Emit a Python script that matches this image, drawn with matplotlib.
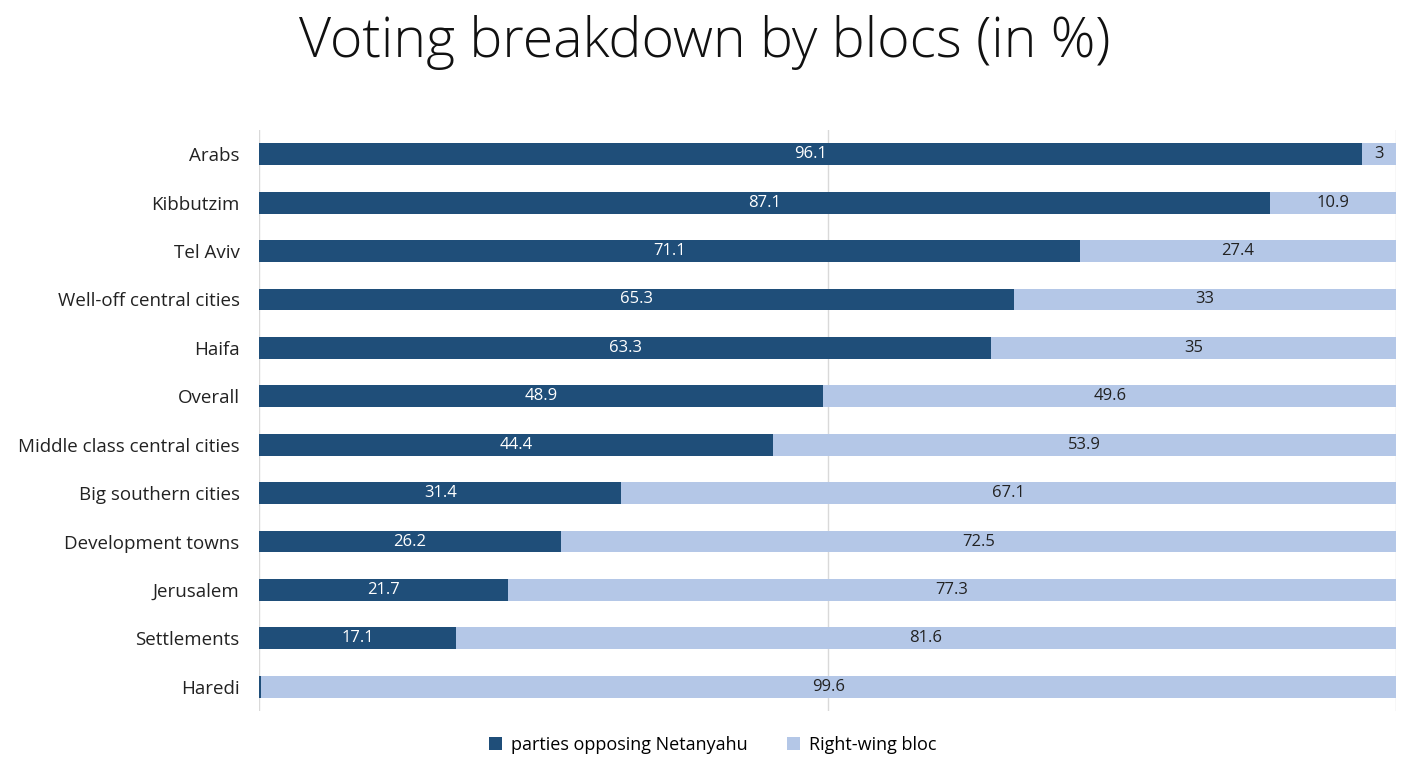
import matplotlib
matplotlib.use("Agg")
import matplotlib.pyplot as plt
import numpy as np

categories = ["Arabs", "Kibbutzim", "Tel Aviv", "Well-off central cities", "Haifa", "Overall",
              "Middle class central cities", "Big southern cities", "Development towns",
              "Jerusalem", "Settlements", "Haredi"]
opposing = [96.1, 87.1, 71.1, 65.3, 63.3, 48.9, 44.4, 31.4, 26.2, 21.7, 17.1, 0.2]
rightwing = [3, 10.9, 27.4, 33, 35, 49.6, 53.9, 67.1, 72.5, 77.3, 81.6, 99.6]
series_names = ["parties opposing Netanyahu", "Right-wing bloc"]
dark = "#1F4E79"
light = "#B4C7E7"

plt.rcParams['font.family'] = ['Open Sans', 'DejaVu Sans']

fig = plt.figure(figsize=(14.1, 7.65), dpi=100)
ax = fig.add_axes([259/1410, 1-711/765, (1396-259)/1410, 581/765])

opp = np.array(opposing)
rw = np.array(rightwing)
tot = opp + rw
op_p = opp / tot * 100
rw_p = rw / tot * 100
y = np.arange(len(categories))
h = 0.45
b1 = ax.barh(y, op_p, height=h, color=dark, label=series_names[0], zorder=3)
b2 = ax.barh(y, rw_p, left=op_p, height=h, color=light, label=series_names[1], zorder=3)

for i in range(len(categories)):
    if opposing[i] >= 1:
        ax.text(op_p[i]/2, y[i], f"{opposing[i]:g}", ha='center', va='center', color='white', fontsize=12, zorder=4)
    ax.text(op_p[i] + rw_p[i]/2, y[i], f"{rightwing[i]:g}", ha='center', va='center', color='#222222', fontsize=12, zorder=4)

ax.set_xlim(0, 100)
ax.set_ylim(len(categories)-0.5, -0.5)
ax.set_yticks(y)
ax.set_yticklabels(categories, fontsize=13.5, color='#222222')
ax.tick_params(axis='y', length=0, pad=14)
ax.set_xticks([0, 50, 100])
ax.set_xticklabels([])
ax.tick_params(axis='x', length=0)
ax.grid(axis='x', color='#D9D9D9', linewidth=1, zorder=0)
for s in ax.spines.values():
    s.set_visible(False)

fig.text(0.5, 1-42/765, "Voting breakdown by blocs (in %)", ha='center', va='center', fontsize=40, color='#111111', fontweight='light')

fig.legend(handles=[b1, b2], labels=series_names, loc='center', bbox_to_anchor=(713/1410, 1-745/765),
           ncol=2, frameon=False, fontsize=13, handlelength=0.7, handleheight=0.7, columnspacing=2.2, handletextpad=0.5)

fig.savefig("out.png", dpi=100, facecolor='white')
